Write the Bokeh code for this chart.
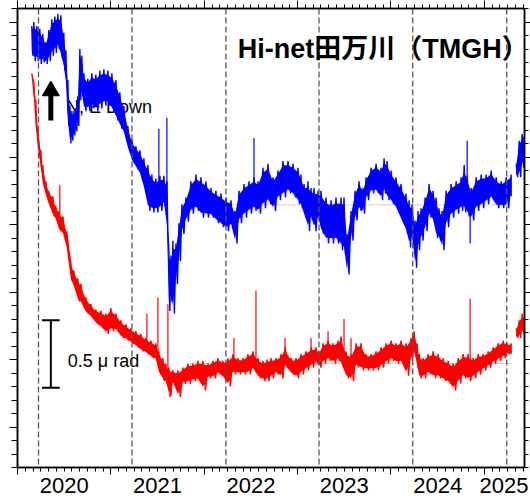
import numpy as np
from bokeh.plotting import figure
from bokeh.models import Range1d, LinearAxis, FixedTicker, Span, Label
from bokeh.core.properties import value
from bokeh.embed import file_html
from bokeh.resources import INLINE

# ---------------------------------------------------------------------------
# Tilt records at Hi-net TMGH (micro-radian), decimal-year time stamps.
# Each record is kept as an upper / lower envelope of the noisy trace.
# ---------------------------------------------------------------------------
blue_t = [2020.153, 2020.175, 2020.207, 2020.239, 2020.271, 2020.303, 2020.335, 2020.368,
          2020.400, 2020.432, 2020.464, 2020.496, 2020.518, 2020.539, 2020.561, 2020.582,
          2020.603, 2020.625, 2020.646, 2020.668, 2020.689, 2020.711, 2020.753, 2020.796,
          2020.839, 2020.882, 2020.925, 2020.968, 2021.011, 2021.054, 2021.096, 2021.139,
          2021.182, 2021.225, 2021.268, 2021.311, 2021.354, 2021.397, 2021.439, 2021.482,
          2021.525, 2021.568, 2021.600, 2021.621, 2021.643, 2021.664, 2021.697, 2021.729,
          2021.761, 2021.804, 2021.857, 2021.911, 2021.965, 2022.018, 2022.072, 2022.125,
          2022.179, 2022.233, 2022.286, 2022.329, 2022.372, 2022.426, 2022.479, 2022.533,
          2022.576, 2022.629, 2022.683, 2022.736, 2022.790, 2022.843, 2022.897, 2022.951,
          2023.004, 2023.036, 2023.069, 2023.111, 2023.144, 2023.176, 2023.219, 2023.251,
          2023.304, 2023.358, 2023.411, 2023.465, 2023.497, 2023.529, 2023.572, 2023.615,
          2023.658, 2023.701, 2023.733, 2023.787, 2023.840, 2023.894, 2023.926, 2023.958,
          2024.001, 2024.054, 2024.108, 2024.161, 2024.194, 2024.226, 2024.258, 2024.290,
          2024.322, 2024.365, 2024.408, 2024.451, 2024.483, 2024.515, 2024.547, 2024.590,
          2024.644, 2024.698, 2024.751, 2024.784, 2024.816, 2024.859, 2024.912, 2024.966,
          2025.019, 2025.073, 2025.127, 2025.180, 2025.234, 2025.287]
blue_hi = [2.47, 2.50, 2.47, 2.45, 2.41, 2.35, 2.44, 2.52, 2.54, 2.56, 2.55, 2.42, 2.29, 2.07,
           1.88, 1.84, 1.84, 1.86, 1.95, 2.30, 2.25, 2.12, 2.08, 2.12, 2.11, 2.14, 2.15, 2.14,
           2.12, 2.07, 1.98, 1.88, 1.73, 1.63, 1.58, 1.55, 1.49, 1.44, 1.37, 1.34, 1.36, 1.36,
           1.32, 0.81, 0.77, 0.88, 0.86, 1.01, 1.15, 1.20, 1.32, 1.37, 1.35, 1.32, 1.27, 1.25,
           1.23, 1.20, 1.18, 1.10, 1.25, 1.30, 1.32, 1.35, 1.32, 1.42, 1.45, 1.35, 1.40, 1.47,
           1.47, 1.45, 1.42, 1.37, 1.30, 1.32, 1.27, 1.27, 1.25, 1.25, 1.20, 1.18, 1.20, 1.20,
           1.20, 0.93, 1.10, 1.25, 1.32, 1.27, 1.35, 1.42, 1.45, 1.42, 1.49, 1.47, 1.40, 1.35,
           1.30, 1.23, 1.18, 1.15, 1.03, 1.10, 1.12, 1.20, 1.30, 1.25, 1.20, 1.12, 1.10, 1.25,
           1.30, 1.32, 1.35, 1.44, 1.36, 1.27, 1.35, 1.37, 1.37, 1.40, 1.35, 1.32, 1.35, 1.37]
blue_lo = [2.25, 2.21, 2.21, 2.19, 2.20, 2.19, 2.21, 2.25, 2.27, 2.30, 2.23, 2.14, 2.03, 1.73,
           1.60, 1.62, 1.66, 1.69, 1.73, 1.92, 1.95, 1.84, 1.84, 1.86, 1.84, 1.86, 1.88, 1.88,
           1.83, 1.77, 1.71, 1.66, 1.55, 1.46, 1.41, 1.36, 1.25, 1.10, 1.09, 1.09, 1.10, 1.14,
           0.95, 0.36, 0.43, 0.34, 0.56, 0.73, 0.93, 1.02, 1.08, 1.10, 1.05, 1.05, 1.05, 1.01,
           0.98, 0.95, 0.98, 0.86, 1.01, 1.05, 1.08, 1.10, 1.08, 1.12, 1.15, 1.10, 1.18, 1.20,
           1.23, 1.20, 1.15, 1.12, 1.05, 0.95, 1.03, 0.95, 1.03, 0.93, 0.86, 0.86, 0.86, 0.81,
           0.78, 0.63, 0.88, 1.03, 1.10, 1.08, 1.18, 1.23, 1.23, 1.18, 1.23, 1.18, 1.15, 1.10,
           1.01, 0.93, 0.83, 0.88, 0.68, 0.81, 0.88, 0.95, 1.05, 1.01, 0.90, 0.88, 0.81, 0.98,
           1.05, 1.08, 1.10, 1.09, 1.06, 1.03, 1.10, 1.12, 1.15, 1.18, 1.12, 1.12, 1.12, 1.21]
# after the data gap in mid 2025
blue_tail_t = [2025.341, 2025.373, 2025.405, 2025.437]
blue_tail_hi = [1.45, 1.62, 1.67, 1.69]
blue_tail_lo = [1.35, 1.35, 1.42, 1.47]
# isolated steps / spikes
blue_spike_t = [2021.514, 2021.600, 2022.533, 2024.816, 2024.848]
blue_spike_v = [1.71, 1.79, 1.64, 1.62, 0.86]

red_t = [2020.153, 2020.175, 2020.196, 2020.218, 2020.250, 2020.271, 2020.303, 2020.335,
         2020.378, 2020.410, 2020.443, 2020.486, 2020.528, 2020.571, 2020.603, 2020.646,
         2020.678, 2020.732, 2020.786, 2020.839, 2020.893, 2020.946, 2021.000, 2021.054,
         2021.107, 2021.161, 2021.214, 2021.268, 2021.321, 2021.375, 2021.429, 2021.482,
         2021.514, 2021.557, 2021.589, 2021.621, 2021.664, 2021.718, 2021.772, 2021.825,
         2021.879, 2021.932, 2021.986, 2022.040, 2022.093, 2022.147, 2022.200, 2022.254,
         2022.307, 2022.361, 2022.415, 2022.468, 2022.522, 2022.576, 2022.629, 2022.672,
         2022.715, 2022.768, 2022.822, 2022.865, 2022.929, 2022.983, 2023.036, 2023.090,
         2023.144, 2023.197, 2023.229, 2023.272, 2023.326, 2023.379, 2023.433, 2023.465,
         2023.519, 2023.572, 2023.626, 2023.679, 2023.733, 2023.787, 2023.840, 2023.894,
         2023.947, 2024.001, 2024.054, 2024.108, 2024.161, 2024.215, 2024.247, 2024.280,
         2024.301, 2024.344, 2024.397, 2024.451, 2024.505, 2024.558, 2024.612, 2024.666,
         2024.719, 2024.773, 2024.826, 2024.880, 2024.934, 2024.987, 2025.041, 2025.094,
         2025.148, 2025.202, 2025.244, 2025.287]
red_hi = [2.12, 2.05, 1.92, 1.71, 1.55, 1.44, 1.32, 1.25, 1.21, 1.14, 1.10, 1.06, 0.95, 0.72,
          0.66, 0.60, 0.56, 0.46, 0.41, 0.37, 0.36, 0.34, 0.38, 0.34, 0.29, 0.26, 0.23, 0.21,
          0.19, 0.16, 0.14, 0.12, 0.06, 0.01, -0.03, -0.06, -0.08, -0.08, -0.06, -0.03, -0.03,
          -0.01, -0.01, -0.03, -0.01, 0.01, -0.01, 0.01, 0.04, 0.01, 0.01, 0.04, 0.06, 0.01,
          -0.01, 0.00, 0.01, 0.01, 0.04, 0.09, 0.01, 0.01, 0.04, 0.06, 0.09, 0.09, 0.06, 0.12,
          0.14, 0.12, 0.14, 0.17, 0.06, 0.04, 0.12, 0.12, 0.04, 0.04, 0.06, 0.09, 0.12, 0.14,
          0.12, 0.14, 0.12, 0.16, 0.21, 0.12, 0.04, 0.01, 0.04, 0.06, 0.04, 0.01, -0.01, -0.03,
          0.01, 0.04, 0.04, 0.01, 0.04, 0.04, 0.06, 0.09, 0.12, 0.14, 0.12, 0.12]
red_lo = [2.08, 1.92, 1.69, 1.55, 1.40, 1.29, 1.21, 1.14, 1.06, 1.03, 0.95, 0.92, 0.81, 0.58,
          0.53, 0.43, 0.41, 0.34, 0.31, 0.26, 0.23, 0.19, 0.21, 0.21, 0.16, 0.14, 0.12, 0.09,
          0.06, 0.04, 0.01, -0.01, -0.11, -0.16, -0.18, -0.27, -0.18, -0.28, -0.18, -0.18,
          -0.16, -0.16, -0.23, -0.14, -0.14, -0.11, -0.14, -0.20, -0.11, -0.11, -0.11, -0.11,
          -0.08, -0.14, -0.16, -0.16, -0.14, -0.11, -0.14, -0.06, -0.11, -0.14, -0.11, -0.08,
          -0.06, -0.03, -0.06, -0.03, -0.01, -0.03, -0.01, -0.05, -0.14, -0.16, -0.06, -0.08,
          -0.08, -0.08, -0.08, -0.06, -0.03, -0.01, -0.03, -0.03, -0.12, -0.01, 0.04, -0.06,
          -0.14, -0.14, -0.11, -0.14, -0.14, -0.16, -0.18, -0.23, -0.18, -0.14, -0.16, -0.14,
          -0.11, -0.08, -0.06, -0.03, -0.01, 0.01, 0.04, 0.04]
red_tail_t = [2025.341, 2025.373, 2025.405, 2025.437]
red_tail_hi = [0.23, 0.29, 0.34, 0.31]
red_tail_lo = [0.16, 0.16, 0.19, 0.21]
red_spike_t = [2020.453, 2021.386, 2021.504, 2021.611, 2021.632, 2022.318, 2022.554,
               2022.865, 2023.144, 2023.326, 2023.497, 2023.572, 2024.848]
red_spike_v = [1.29, 0.34, 0.46, 0.41, -0.28, 0.16, 0.51, 0.16, 0.16, 0.21, 0.30, 0.16, 0.45]

# reference levels (faint) and the yearly marker dates (dashed)
ref_levels = [1.145, -0.03]
ref_from, ref_to = 2021.86, 2025.29
marker_dates = [2020.225, 2021.226, 2022.232, 2023.229, 2024.233, 2025.240]

# axis ticks / labels
years = [2020, 2021, 2022, 2023, 2024, 2025]
year_labels = ["2020", "2021", "2022", "2023", "2024", "2025"]
year_label_pos = [2020.5, 2021.5, 2022.5, 2023.5, 2024.5, 2025.21]
x_start, x_end = 2020.0, 2025.43
y_bottom, y_top = -0.8, 2.6
y_major = [-0.5, 0.0, 0.5, 1.0, 1.5, 2.0, 2.5]

month_ticks = [y + m / 12 for y in years for m in range(12)]
month_ticks = [m for m in month_ticks if x_start <= m <= x_end]
y_minor = [round(y_bottom + 0.1 * i, 2) for i in range(int(round((y_top - y_bottom) / 0.1)) + 1)]

BLUE = "#0000ff"
RED = "#ff0000"

p = figure(width=530, height=504,
           x_range=Range1d(x_start, x_end), y_range=Range1d(y_bottom, y_top),
           output_backend="svg", toolbar_location=None,
           x_axis_location=None, y_axis_location=None,
           min_border_left=17, min_border_right=6, min_border_top=8, min_border_bottom=37,
           background_fill_color="white", border_fill_color="white",
           outline_line_color="black", outline_line_width=1.5)
p.xgrid.visible = False
p.ygrid.visible = False


def tick_axis(side, ticks, minor, major_out, minor_out):
    # tick marks only, no tick labels
    ax = LinearAxis(ticker=FixedTicker(ticks=ticks, minor_ticks=minor),
                    major_tick_in=0, minor_tick_in=0,
                    major_tick_out=major_out, minor_tick_out=minor_out,
                    major_label_text_font_size="0px", major_label_standoff=0,
                    axis_line_color="black", axis_line_width=1.5,
                    major_tick_line_color="black", minor_tick_line_color="black",
                    major_tick_line_width=1, minor_tick_line_width=1)
    p.add_layout(ax, side)


tick_axis("below", years, month_ticks, 7, 4)
tick_axis("above", years, month_ticks, 8, 4)
tick_axis("left", y_major, y_minor, 8, 6)
tick_axis("right", y_major, y_minor, 6, 4)

# year names centred in each year
year_axis = LinearAxis(ticker=FixedTicker(ticks=year_label_pos),
                       major_label_overrides=dict(zip(year_label_pos, year_labels)),
                       major_tick_in=0, major_tick_out=0, minor_tick_in=0, minor_tick_out=0,
                       axis_line_color=None, major_tick_line_color=None,
                       minor_tick_line_color=None,
                       major_label_text_font="Liberation Sans",
                       major_label_text_font_size="22px",
                       major_label_text_color="black", major_label_standoff=3)
p.add_layout(year_axis, "below")

# faint reference levels
p.segment(x0=[ref_from] * len(ref_levels), x1=[ref_to] * len(ref_levels),
          y0=ref_levels, y1=ref_levels, line_color="#999999", line_width=0.8, line_alpha=0.6)

# direction note (lies underneath the traces)
p.text(x=[2020.52], y=[1.87], text=["N, E Down"], text_font=value("Liberation Sans"),
       text_font_size="18px", text_color="black", text_baseline="alphabetic", text_align="left")


def noisy_trace(t, hi, lo, color):
    """Solid core plus a saw-tooth running between the envelopes."""
    t = np.asarray(t, float)
    hi = np.asarray(hi, float)
    lo = np.asarray(lo, float)
    mid = (hi + lo) / 2
    half = (hi - lo) / 2
    p.varea(x=t, y1=mid - 0.75 * half, y2=mid + 0.75 * half, fill_color=color)
    step = np.diff(t)
    step = np.append(step, step[-1] if len(step) else 0.0)
    zx = np.empty(2 * len(t))
    zy = np.empty(2 * len(t))
    zx[0::2] = t
    zy[0::2] = hi
    zx[1::2] = t + step / 2
    zy[1::2] = lo
    zx[-1] = t[-1]
    p.line(x=zx, y=zy, line_color=color, line_width=1.4)
    return mid


# red trace
red_mid = noisy_trace(red_t, red_hi, red_lo, RED)
noisy_trace(red_tail_t, red_tail_hi, red_tail_lo, RED)
p.segment(x0=red_spike_t, x1=red_spike_t,
          y0=np.interp(red_spike_t, red_t, red_mid), y1=red_spike_v,
          line_color=RED, line_width=1.2)

# blue trace
blue_mid = noisy_trace(blue_t, blue_hi, blue_lo, BLUE)
noisy_trace(blue_tail_t, blue_tail_hi, blue_tail_lo, BLUE)
p.segment(x0=blue_spike_t, x1=blue_spike_t,
          y0=np.interp(blue_spike_t, blue_t, blue_mid), y1=blue_spike_v,
          line_color=BLUE, line_width=1.2)

# "up" arrow
p.segment(x0=[2020.357], x1=[2020.357], y0=[1.77], y1=[1.99], line_color="black", line_width=5)
p.scatter(x=[2020.357], y=[1.99], marker="triangle", size=17,
          fill_color="black", line_color="black")

# 0.5 micro-radian scale bar
bar_x, bar_lo, bar_hi = 2020.357, -0.21, 0.29
p.segment(x0=[bar_x, 2020.262, 2020.262], x1=[bar_x, 2020.452, 2020.452],
          y0=[bar_lo, bar_lo, bar_hi], y1=[bar_hi, bar_lo, bar_hi],
          line_color="black", line_width=2)
p.text(x=[2020.539], y=[-0.01], text=["0.5 μ rad"], text_font=value("Liberation Sans"),
       text_font_size="18px", text_color="black", text_baseline="alphabetic", text_align="left")

# dashed yearly markers
for d in marker_dates:
    p.add_layout(Span(location=d, dimension="height", line_color="#555555",
                      line_width=1.3, line_dash="6 3"))

p.add_layout(Label(x=2022.36, y=2.30, text="Hi-net田万川（TMGH）",
                   text_font="'Liberation Sans', 'Noto Sans CJK JP'",
                   text_font_style="bold", text_font_size="27px",
                   text_color="black", text_baseline="alphabetic"))

open("out.html", "w").write(file_html(p, INLINE))
